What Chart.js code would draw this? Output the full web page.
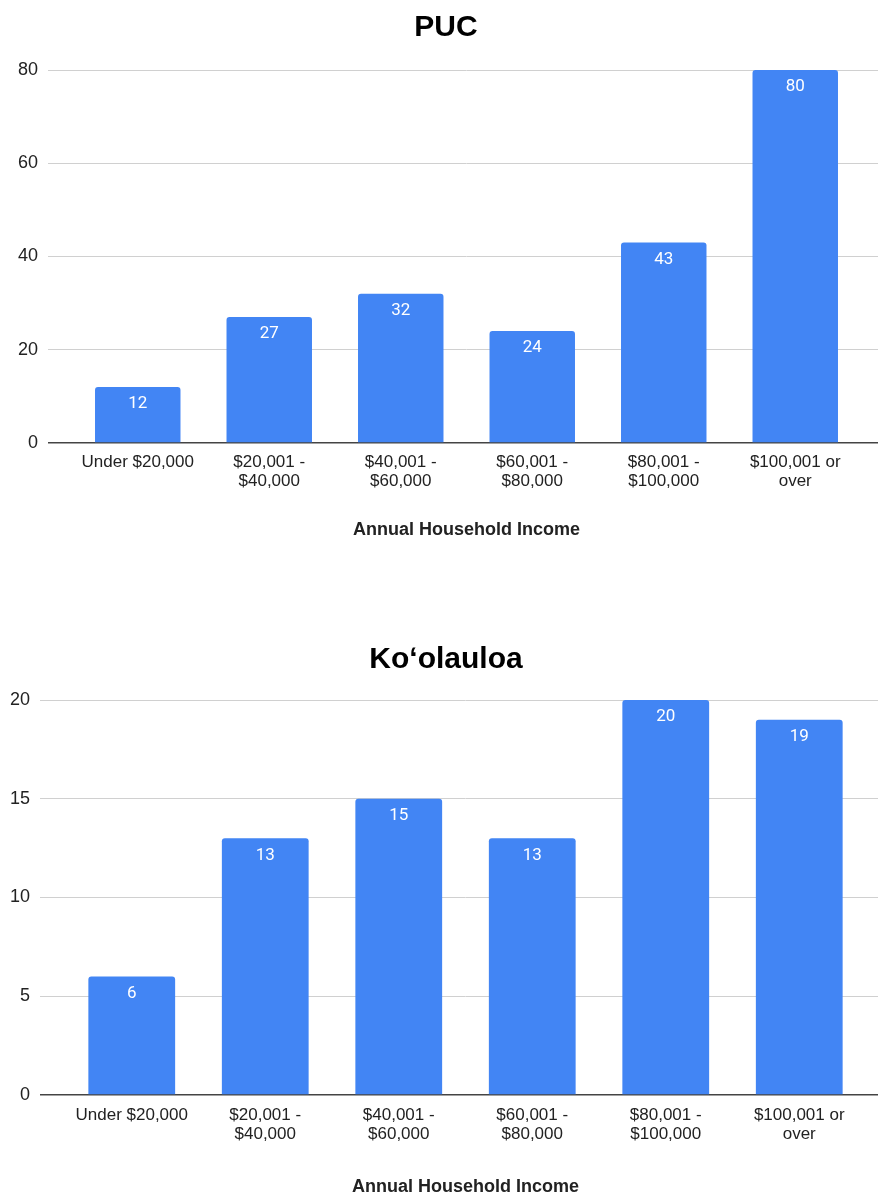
<!DOCTYPE html>
<html>
<head>
<meta charset="utf-8">
<script src="https://cdn.jsdelivr.net/npm/chart.js@4"></script>
<style>
  html, body { margin: 0; padding: 0; background: #fff; }
  body { width: 878px; height: 1196px; position: relative; overflow: hidden; }
  .box { position: absolute; left: 0; width: 892px; }
</style>
</head>
<body>
<div class="box" style="top:0;height:550px"><canvas id="puc"></canvas></div>
<div class="box" style="top:625px;height:571px"><canvas id="koolauloa"></canvas></div>
<script>
// income brackets (x-axis tick labels, two lines each)
const categories = [
  ["Under $20,000"],
  ["$20,001 -", "$40,000"],
  ["$40,001 -", "$60,000"],
  ["$60,001 -", "$80,000"],
  ["$80,001 -", "$100,000"],
  ["$100,001 or", "over"]
];
const pucValues = [12, 27, 32, 24, 43, 80];
const koolauloaValues = [6, 13, 15, 13, 20, 19];
const xTitle = "Annual Household Income";

const arial = "'Liberation Sans', Arial, sans-serif";

// white value printed at the top inside each bar
const barValues = {
  id: "barValues",
  afterDatasetsDraw(chart) {
    const ctx = chart.ctx;
    const meta = chart.getDatasetMeta(0);
    const data = chart.data.datasets[0].data;
    ctx.save();
    ctx.fillStyle = "#ffffff";
    ctx.font = "17px Roboto";
    ctx.textAlign = "center";
    ctx.textBaseline = "middle";
    meta.data.forEach((bar, i) => {
      ctx.fillText(String(data[i]), bar.x, bar.y + 17);
    });
    ctx.restore();
  }
};

const gridColor = (c) => (c.tick && c.tick.value === 0 ? "#444" : "#d0d0d0");
const gridWidth = (c) => (c.tick && c.tick.value === 0 ? 1.5 : 1);

function makeChart(id, title, values, max, step, lay) {
  const ctx = document.getElementById(id);
  return new Chart(ctx, {
    type: "bar",
    data: {
      labels: categories,
      datasets: [{
        data: values,
        backgroundColor: "#4285f4",
        borderRadius: { topLeft: 3, topRight: 3 },
        borderSkipped: "bottom",
        barPercentage: 0.65,
        categoryPercentage: 1
      }]
    },
    options: {
      responsive: true,
      maintainAspectRatio: false,
      animation: false,
      layout: { padding: 0 },
      plugins: {
        legend: { display: false },
        tooltip: { enabled: false },
        title: {
          display: true,
          text: title,
          color: "#000",
          font: { family: arial, size: 30, weight: "bold", lineHeight: 1.2 },
          padding: { top: lay.titleTop, bottom: lay.titleBottom }
        }
      },
      scales: {
        x: {
          grid: { display: false, drawTicks: false },
          border: { display: false },
          ticks: {
            color: "#222",
            font: { family: arial, size: 17, lineHeight: 1.12 },
            padding: lay.tickPad,
            maxRotation: 0,
            autoSkip: false
          },
          title: {
            display: true,
            text: xTitle,
            color: "#222",
            font: { family: arial, size: 18, weight: "bold", lineHeight: 1 },
            padding: { top: 0, bottom: lay.xTitleBottom }
          },
          afterFit(scale) { scale.height = lay.xHeight; }
        },
        y: {
          min: 0,
          max: max,
          ticks: {
            stepSize: step,
            color: "#222",
            font: { family: arial, size: 18 },
            padding: 10
          },
          grid: {
            color: gridColor,
            lineWidth: gridWidth,
            drawTicks: true,
            tickLength: lay.tickLen
          },
          border: { display: false },
          afterFit(scale) { scale.width = lay.yWidth; }
        },
        // right-hand helper axis: only carries the gridlines out to the page edge
        y2: {
          position: "right",
          min: 0,
          max: max,
          ticks: { stepSize: step, display: false },
          grid: {
            color: gridColor,
            lineWidth: gridWidth,
            drawOnChartArea: false,
            drawTicks: true,
            tickLength: lay.rightLen
          },
          border: { display: false },
          afterFit(scale) { scale.width = lay.rightLen; }
        }
      }
    },
    plugins: [barValues]
  });
}

makeChart("puc", "PUC", pucValues, 80, 20, {
  yWidth: 72, rightLen: 31, titleTop: 9.5, titleBottom: 24.5,
  xHeight: 107, tickPad: 10, xTitleBottom: 10.5, tickLen: 24
});
makeChart("koolauloa", "Ko\u02BBolauloa", koolauloaValues, 20, 5, {
  yWidth: 65, rightLen: 26, titleTop: 16.5, titleBottom: 22.5,
  xHeight: 101, tickPad: 11, xTitleBottom: 0, tickLen: 25
});
</script>
</body>
</html>
